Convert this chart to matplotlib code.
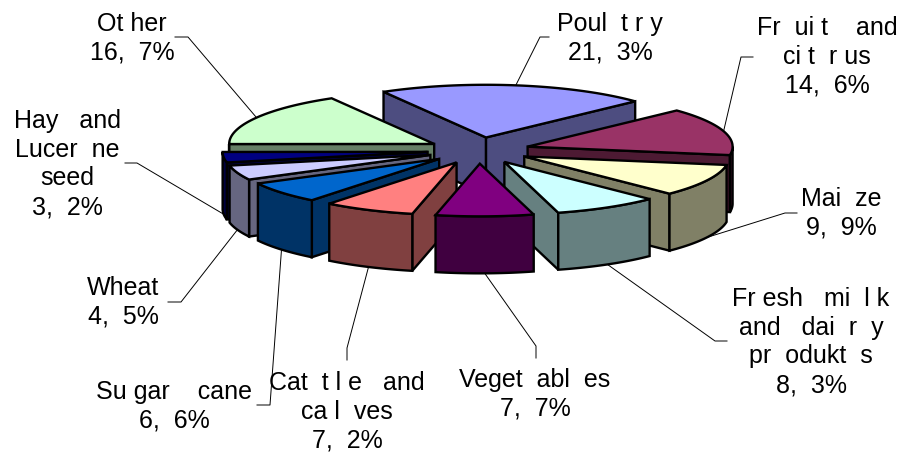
import numpy as np
import matplotlib
matplotlib.use('Agg')
import matplotlib.pyplot as plt
from matplotlib.patches import Polygon, Rectangle

# Data
shares = [21.3, 14.6, 9.9, 8.3, 7.7, 7.2, 6.6, 4.5, 3.2, 16.7]
names = ['Poul  t r y', 'Fr  ui t    and\nci t  r us', 'Mai  ze', 'Fr esh   mi  l k\nand   dai  r  y\npr  odukt  s',
         'Veget  abl  es', 'Cat  t l e   and\nca l  ves', 'Su gar    cane', 'Wheat',
         'Hay   and\nLucer  ne\nseed', 'Ot her']
top_colors = ['#9999FF', '#993366', '#FFFFCC', '#CCFFFF', '#800080',
              '#FF8080', '#0066CC', '#CCCCFF', '#000080', '#CCFFCC']
side_colors = ['#4D4D80', '#4D1A33', '#808066', '#668080', '#400040',
               '#804040', '#003366', '#666680', '#000040', '#668066']

# Layout in image pixels
CX, CY = 478.6, 150.5
RADIUS = 205
SQUASH = 0.257
EXPLODE = 0.25
DEPTH = 57
START = -30

label_pos = [(610, 38), (827, 57), (841, 213), (811, 342), (535, 394),
             (347, 412), (174, 406), (123, 302), (67, 164), (132, 38)]
# elbow points of the leader lines, label end first
elbows = [[(549, 37), (540, 37)], [(753, 57), (741, 57)], [(797, 213), (785, 213)],
          [(727, 341), (715, 341)], [(536, 358), (536, 346)],
          [(347, 360), (347, 348)], [(257, 405), (270, 405)], [(168, 302), (181, 302)],
          [(125, 163), (137, 163)], [(175, 37), (188, 37)]]
draw_order = [0, 9, 1, 8, 7, 2, 6, 3, 5, 4]


def rim(apex, angles, drop=0):
    a = np.radians(angles)
    return np.column_stack([apex[0] + RADIUS * np.sin(a),
                            apex[1] - RADIUS * SQUASH * np.cos(a) + drop])


def wall(ax, apex, angle, color):
    p = rim(apex, [angle])[0]
    pts = [apex, p, (p[0], p[1] + DEPTH), (apex[0], apex[1] + DEPTH)]
    add_face(ax, pts, color)


def add_face(ax, pts, color):
    ax.add_patch(Polygon(pts, closed=True, facecolor=color, edgecolor='black',
                         linewidth=1.7, joinstyle='miter', zorder=3))


fig = plt.figure(figsize=(8.98, 4.54), dpi=100)
ax = fig.add_axes([0, 0, 1, 1])
ax.set_xlim(0, 898)
ax.set_ylim(454, 0)
ax.axis('off')

edges = START + np.cumsum([0] + shares) * 3.6
apexes = []
for i in range(len(shares)):
    mid = np.radians((edges[i] + edges[i + 1]) / 2)
    apexes.append((CX + EXPLODE * RADIUS * np.sin(mid),
                   CY - EXPLODE * RADIUS * SQUASH * np.cos(mid)))

# Leader lines, from the rim at the middle of each slice
for i in range(len(shares)):
    mid = (edges[i] + edges[i + 1]) / 2
    drop = DEPTH if 90 < mid < 270 else 0
    end = rim(apexes[i], [mid], drop)[0]
    xs = [p[0] for p in elbows[i]] + [end[0]]
    ys = [p[1] for p in elbows[i]] + [end[1]]
    ax.plot(xs, ys, color='black', linewidth=0.7, zorder=1)

# Slices, back to front
for i in draw_order:
    a1, a2 = edges[i], edges[i + 1]
    apex = apexes[i]
    # cut faces that look towards the viewer
    if np.cos(np.radians(a1 - 90)) < 0:
        wall(ax, apex, a1, side_colors[i])
    if np.cos(np.radians(a2 + 90)) < 0:
        wall(ax, apex, a2, side_colors[i])
    # outer wall, only the front half of the ellipse shows
    lo, hi = max(a1, 90), min(a2, 270)
    if lo < hi:
        arc = np.linspace(lo, hi, 40)
        add_face(ax, np.vstack([rim(apex, arc), rim(apex, arc[::-1], DEPTH)]), side_colors[i])
    arc = np.linspace(a1, a2, 60)
    add_face(ax, np.vstack([[apex], rim(apex, arc)]), top_colors[i])

# Labels
for i in range(len(shares)):
    value = f'{shares[i]:.1f}'.replace('.', ',  ')
    t = ax.text(label_pos[i][0], label_pos[i][1], names[i] + '\n' + value + '%', ha='center', va='center',
                family='Liberation Sans', fontsize=18, linespacing=1.26, color='black', zorder=5)
    if names[i].startswith('Hay'):
        t.set_clip_path(Rectangle((13, 90), 200, 140, transform=ax.transData))
        t.set_clip_on(True)
    if names[i].startswith('Ot'):
        t.set_clip_path(Rectangle((60, 0), 116, 80, transform=ax.transData))
        t.set_clip_on(True)

fig.savefig('out.png', dpi=100)
